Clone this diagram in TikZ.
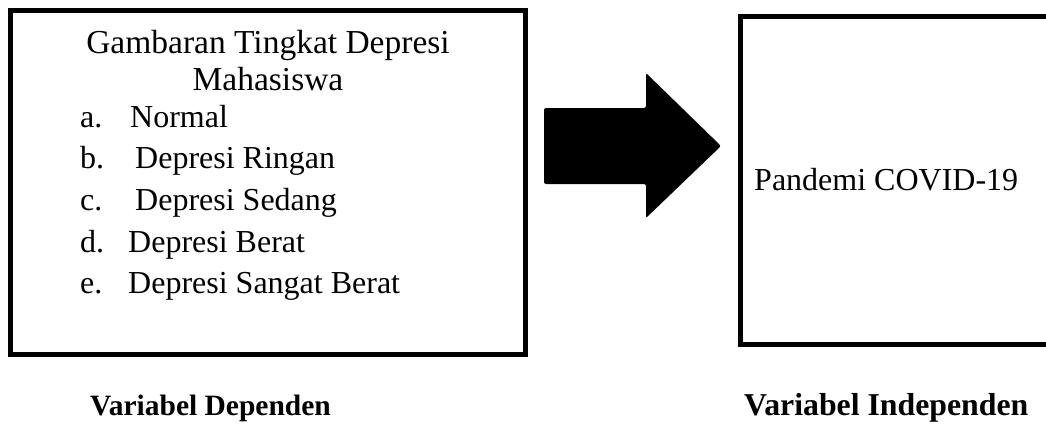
\documentclass[tikz,border=0pt]{standalone}
\usepackage{fontspec}
\setmainfont{Liberation Serif}
\begin{document}
\begin{tikzpicture}[x=1pt,y=-1pt,
  box/.style={line width=5pt, draw=black},
  titletext/.style={anchor=base, inner sep=0pt, font=\fontsize{33.5}{38}\selectfont},
  itemtext/.style={anchor=base west, inner sep=0pt, font=\fontsize{32}{38}\selectfont},
  labeltext/.style={anchor=base west, inner sep=0pt, font=\bfseries\fontsize{29.5}{34}\selectfont}]
\useasboundingbox (0,0) rectangle (1046,423);
\clip (0,0) rectangle (1046,423);
% left box
\draw[box] (10.5,10.5) rectangle (525.5,354);
\node[titletext] (t1) at (268,53) {Gambaran Tingkat Depresi};
\node[titletext] (t2) at (268,90) {Mahasiswa};
\node[itemtext] (la) at (80,127) {a.};
\node[itemtext] (ia) at (130,127) {Normal};
\node[itemtext] (lb) at (80,168) {b.};
\node[itemtext] (ib) at (135,168) {Depresi Ringan};
\node[itemtext] (lc) at (80,210) {c.};
\node[itemtext] (ic) at (135,210) {Depresi Sedang};
\node[itemtext] (ld) at (80,252) {d.};
\node[itemtext] (id) at (128,252) {Depresi Berat};
\node[itemtext] (le) at (80,293) {e.};
\node[itemtext] (ie) at (128,293) {Depresi Sangat Berat};
% arrow
\fill[black, rounded corners=2pt] (544,108) -- (646,108) -- (646,73) -- (721,146) -- (646,218) -- (646,184) -- (544,184) -- cycle;
% right box
\draw[box] (740.5,16.5) rectangle (1060,344.5);
\node[itemtext] (pc) at (754,190) {Pandemi COVID-19};
% labels
\node[labeltext] (vd) at (90,415) {Variabel Dependen};
\node[labeltext, font=\bfseries\fontsize{31.8}{34}\selectfont] (vi) at (744,415) {Variabel Independen};
\end{tikzpicture}
\end{document}
